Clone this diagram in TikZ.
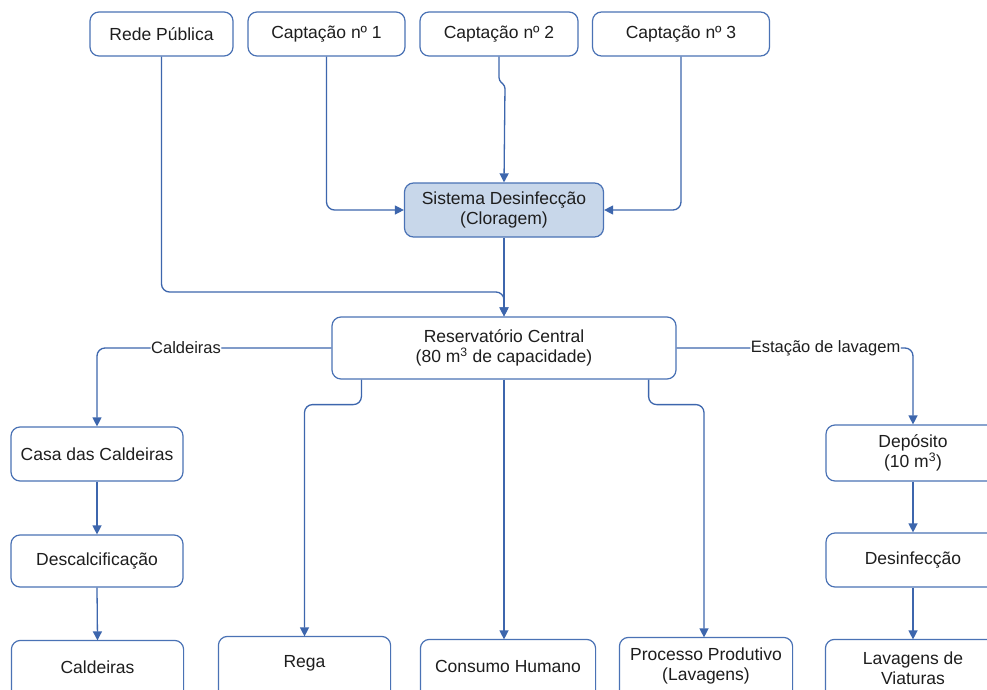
\documentclass[tikz,border=0pt]{standalone}
\usepackage{fontspec}
\setmainfont{Liberation Sans}
\usetikzlibrary{arrows.meta,calc}
\definecolor{lineblue}{HTML}{3D66AD}
\definecolor{boxblue}{HTML}{4A72B5}
\definecolor{fillblue}{HTML}{C8D7EA}
\definecolor{txt}{HTML}{1E1E1E}
\tikzset{
  outline/.style={draw=boxblue, line width=1.2pt, rounded corners=9pt},
  box/.style={outline, fill=white,
    align=center, text=txt, font=\fontsize{17.5}{20.5}\selectfont, inner sep=2pt},
  openbox/.style={box, draw=none, fill=none},
  conn/.style={draw=lineblue, line width=1.3pt, rounded corners=8pt,
    -{Triangle[length=9pt,width=9pt]}},
  lbl/.style={fill=white, text=txt, font=\fontsize{16.5}{19}\selectfont, inner sep=0.5pt}
}
\begin{document}
\begin{tikzpicture}[x=1pt,y=-1pt]
\useasboundingbox (0,0) rectangle (987,690);
\clip (0,0) rectangle (987,690);
\fill[white] (0,0) rectangle (987,690);
% top row
\node[box, minimum width=143pt, minimum height=44pt] (rede) at (161.5,34) {Rede Pública};
\node[box, minimum width=157pt, minimum height=44pt] (cap1) at (326.5,34) {Captação nº 1};
\node[box, minimum width=158pt, minimum height=44pt] (cap2) at (499,34) {Captação nº 2};
\node[box, minimum width=177pt, minimum height=44pt] (cap3) at (681,34) {Captação nº 3};
% center
\node[box, fill=fillblue, minimum width=199pt, minimum height=54pt] (sis) at (504,210) {Sistema Desinfecção\\(Cloragem)};
\node[box, minimum width=344pt, minimum height=62pt] (res) at (504,348) {Reservatório Central\\(80 m\textsuperscript{3} de capacidade)};
% left column
\node[box, minimum width=172pt, minimum height=54pt] (casa) at (97,454) {Casa das Caldeiras};
\node[box, minimum width=172pt, minimum height=52pt] (desc) at (97,561) {Descalcificação};
% bottom row (boxes run past the lower edge)
\node[openbox, minimum width=171pt, minimum height=52pt] (cald) at (97.5,667) {Caldeiras};
\node[openbox, minimum width=171pt, minimum height=52pt] (rega) at (304.5,663) {Rega};
\node[openbox, minimum width=174pt, minimum height=52pt] (cons) at (508,666) {Consumo Humano};
\node[openbox, minimum width=172pt, minimum height=56pt] (proc) at (706,666) {Processo Produtivo\\(Lavagens)};
\node[openbox, minimum width=174pt, minimum height=56pt] (lav) at (913,668) {Lavagens de\\Viaturas};
\foreach \n in {cald,rega,cons,proc,lav}
  \draw[outline] (\n.north west) rectangle ($(\n.south east)+(0,25)$);
% right column
\node[box, minimum width=174pt, minimum height=56pt] (dep) at (913,453) {Depósito\\(10 m\textsuperscript{3})};
\node[box, minimum width=174pt, minimum height=54pt] (desinf) at (913,560) {Desinfecção};
% connectors top
\draw[conn] (rede.south) |- (504,292) -- (res.north);
\draw[conn] (cap1.south) |- (sis.west);
\draw[conn] (cap3.south) |- (sis.east);
\draw[conn, rounded corners=3pt] (cap2.south) -- ++(0,24) -- ++(6,5) -- (sis.north);
\draw[conn] (sis.south) -- (res.north);
% side branches
\draw[conn] (res.west) -| node[lbl, pos=0.31] {Caldeiras} (casa.north);
\draw[conn] (res.east) -| node[lbl, pos=0.315] {Estação de lavagem} (dep.north);
% lower branches
\coordinate (r1) at ([xshift=30pt]res.south west);
\coordinate (r2) at ([xshift=-28pt]res.south east);
\draw[conn] (r1) -- ++(0,25) -| (rega.north);
\draw[conn] (res.south) -- (res.south |- cons.north);
\draw[conn] (r2) -- ++(0,25) -| ([xshift=-2pt]proc.north);
% columns
\draw[conn] (casa.south) -- (desc.north);
\draw[conn] (desc.south) -- (cald.north);
\draw[conn] (dep.south) -- (desinf.north);
\draw[conn] (desinf.south) -- (lav.north);
\end{tikzpicture}
\end{document}
